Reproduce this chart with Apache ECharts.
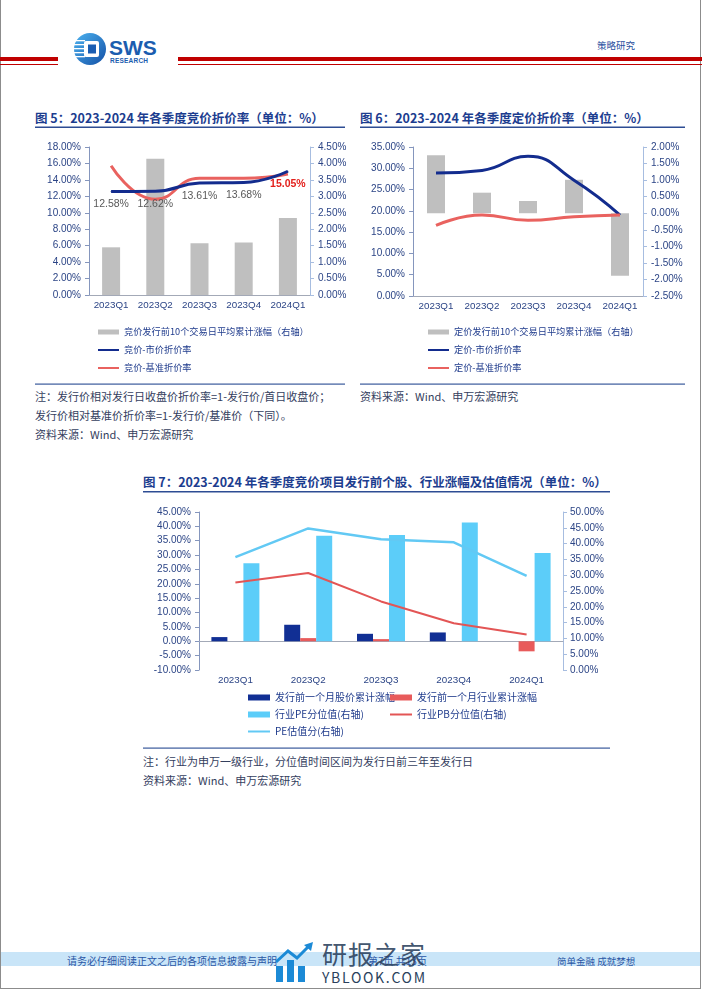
<!DOCTYPE html>
<html>
<head>
<meta charset="utf-8">
<script src="https://cdn.jsdelivr.net/npm/echarts@6/dist/echarts.min.js"></script>
<style>
  body { margin: 0; background: #fff; }
  #page { position: relative; width: 702px; height: 991px; overflow: hidden; background: #fff; }
  #bg, #chart { position: absolute; left: 0; top: 0; width: 702px; height: 991px; }
  #bg text { font-family: "Noto Sans CJK SC", sans-serif; dominant-baseline: central; }
</style>
</head>
<body>
<div id="page">
<svg id="bg" width="702" height="991" viewBox="0 0 702 991">
  <!-- page frame -->
  <rect x="0.5" y="-2" width="700" height="990.5" fill="none" stroke="#8c8c8c" stroke-width="1"/>

  <!-- header -->
  <rect x="0" y="57" width="58" height="4" fill="#c00000"/>
  <rect x="0" y="64" width="58" height="1" fill="#c00000"/>
  <rect x="178" y="57" width="524" height="4" fill="#c00000"/>
  <rect x="178" y="64" width="524" height="1" fill="#c00000"/>
  <defs>
    <linearGradient id="lg" x1="0" y1="0" x2="1" y2="1">
      <stop offset="0" stop-color="#4cb3f0"/>
      <stop offset="1" stop-color="#1450a6"/>
    </linearGradient>
  </defs>
  <circle cx="90" cy="49" r="16" fill="url(#lg)"/>
  <g fill="#ffffff">
    <rect x="75" y="40" width="10" height="1.3"/>
    <rect x="74" y="44" width="11" height="1.3"/>
    <rect x="74" y="48" width="11" height="1.3"/>
    <rect x="74" y="52" width="11" height="1.3"/>
    <rect x="75" y="56" width="10" height="1.3"/>
    <rect x="84" y="41" width="15" height="16" rx="2"/>
  </g>
  <rect x="88" y="44.5" width="8" height="9" fill="#1a5db2"/>
  <text x="109" y="47" style="font-family:'Liberation Sans',Arial;font-weight:bold;font-size:21px" fill="#1b5daf">SWS</text>
  <text x="110" y="60" style="font-family:'Liberation Sans',Arial;font-weight:bold;font-size:6.5px" fill="#1b5daf" textLength="38">RESEARCH</text>
  <text x="597" y="45" font-size="9.5" fill="#2a4f9e">策略研究</text>

  <!-- titles -->
  <text x="35" y="117" font-size="12.5" font-weight="bold" fill="#1c3d8f">图 5：2023-2024 年各季度竞价折价率（单位：%）</text>
  <rect x="35" y="126.5" width="310" height="1.5" fill="#2d4c93"/>
  <text x="360" y="117" font-size="12.5" font-weight="bold" fill="#1c3d8f">图 6：2023-2024 年各季度定价折价率（单位：%）</text>
  <rect x="360" y="126.5" width="325" height="1.5" fill="#2d4c93"/>
  <text x="143" y="481" font-size="12.5" font-weight="bold" fill="#1c3d8f">图 7：2023-2024 年各季度竞价项目发行前个股、行业涨幅及估值情况（单位：%）</text>
  <rect x="143" y="491" width="467" height="1.5" fill="#2d4c93"/>

  <!-- separators and notes -->
  <rect x="35" y="383.5" width="310" height="1.2" fill="#3a5a9c"/>
  <rect x="360" y="383.5" width="325" height="1.2" fill="#3a5a9c"/>
  <rect x="143" y="747.5" width="467" height="1.2" fill="#3a5a9c"/>
  <g font-size="11" fill="#34405e">
    <text x="35" y="396">注：发行价相对发行日收盘价折价率=1-发行价/首日收盘价；</text>
    <text x="35" y="415">发行价相对基准价折价率=1-发行价/基准价（下同）。</text>
    <text x="35" y="434">资料来源：Wind、申万宏源研究</text>
    <text x="360" y="396">资料来源：Wind、申万宏源研究</text>
    <text x="143" y="761">注：行业为申万一级行业，分位值时间区间为发行日前三年至发行日</text>
    <text x="143" y="780">资料来源：Wind、申万宏源研究</text>
  </g>

  <!-- footer -->
  <rect x="1" y="952" width="699" height="14" fill="#c9e5f8"/>
  <g font-size="10" fill="#2a56a5">
    <text x="67" y="960.5">请务必仔细阅读正文之后的各项信息披露与声明</text>
    <text x="368" y="960.5">第7页 共13页</text>
    <text x="557" y="960.5" font-size="9.5">简单金融 成就梦想</text>
  </g>
  <!-- watermark -->
  <g fill="#1c8ad6">
    <rect x="276" y="966" width="7" height="16"/>
    <rect x="287" y="960" width="7" height="22"/>
    <rect x="298" y="966" width="7" height="16"/>
    <polyline points="276,962 288,951 297,958 309,946" fill="none" stroke="#1c8ad6" stroke-width="3"/>
    <polygon points="313,942 304,945 311,951"/>
  </g>
  <text x="322" y="953" font-size="25" fill="#2a3f5c" fill-opacity="0.9" textLength="103">研报之家</text>
  <text x="322" y="977" font-size="14" fill="#2a3f5c" textLength="103">YBLOOK.COM</text>
</svg>
<div id="chart"></div>
</div>
<script>
// categories
const quarters = ['2023Q1', '2023Q2', '2023Q3', '2023Q4', '2024Q1'];

// 图5 竞价
const jjRise = [1.45, 4.14, 1.57, 1.60, 2.34];
const jjMarket = [12.58, 12.62, 13.61, 13.68, 15.05];
const jjBase = [15.73, 11.64, 14.19, 14.19, 14.72];

// 图6 定价
const djRise = [1.75, 0.62, 0.37, 1.01, -1.89];
const djMarket = [28.9, 29.5, 32.8, 27.2, 19.0];
const djBase = [16.6, 19.0, 17.8, 18.6, 19.0];

// 图7 发行前个股、行业涨幅及估值
const stockRise = [1.46, 5.75, 2.60, 3.07, 0];
const industryRise = [0, 1.10, 0.75, 0, -3.50];
const pePct = [33.8, 42.5, 42.7, 46.7, 37.0];
const pbPct = [27.7, 30.7, 21.7, 14.8, 11.2];
const peScore = [35.7, 44.8, 41.4, 40.4, 29.8];

const navy = '#2c4586';
const legendNavy = '#1f3b8c';
const pct = v => v.toFixed(2) + '%';

function yAx(grid, pos, min, max, step, lineColor, extra) {
  return Object.assign({
    type: 'value', gridIndex: grid, position: pos,
    min: min, max: max, interval: step,
    splitLine: { show: false },
    axisLine: { show: true, lineStyle: { color: lineColor } },
    axisTick: { show: true, length: 4, lineStyle: { color: lineColor } },
    axisLabel: { formatter: pct, color: navy, fontSize: 10, fontFamily: 'Liberation Sans', margin: 8 }
  }, extra || {});
}

function xAx(grid, axisLine) {
  return {
    type: 'category', gridIndex: grid, data: quarters,
    axisLine: Object.assign({ lineStyle: { color: '#a3a9b7' } }, axisLine),
    axisTick: { length: 4, lineStyle: { color: '#a3a9b7' } },
    axisLabel: { interval: 0, color: navy, fontSize: 9.8, fontFamily: 'Liberation Sans', margin: 5 }
  };
}

function lineLegend(name) {
  return { name: name, itemStyle: { opacity: 0 }, lineStyle: { width: 2 } };
}

// right axis of 图7: bars start where the category axis crosses
const leftMin7 = -10, leftMax7 = 45, rightMax7 = 50;
const crossValue7 = rightMax7 * (0 - leftMin7) / (leftMax7 - leftMin7);

let myChart = echarts.init(document.getElementById('chart'));

let option = {
  animation: false,
  grid: [
    { left: 89, top: 147, width: 221, height: 148, outerBoundsMode: 'none' },
    { left: 413, top: 147, width: 230, height: 149, outerBoundsMode: 'none' },
    { left: 199, top: 512, width: 364, height: 158, outerBoundsMode: 'none' }
  ],
  xAxis: [
    xAx(0, { onZero: false }),
    xAx(1, { onZero: false }),
    xAx(2, { onZero: true, onZeroAxisIndex: 4 })
  ],
  yAxis: [
    yAx(0, 'left', 0, 18, 2, '#8596bd'),
    yAx(0, 'right', 0, 4.5, 0.5, '#a7bde0'),
    yAx(1, 'left', 0, 35, 5, '#8596bd'),
    yAx(1, 'right', -2.5, 2, 0.5, '#a7bde0'),
    yAx(2, 'left', leftMin7, leftMax7, 5, '#8596bd'),
    yAx(2, 'right', 0, rightMax7, 5, '#a7bde0', { startValue: crossValue7, axisLabel: { formatter: pct, color: navy, fontSize: 10, fontFamily: 'Liberation Sans', margin: 7 } })
  ],
  legend: [
    {
      left: 92, top: 318, orient: 'vertical', itemWidth: 21, itemHeight: 5, itemGap: 0,
      textStyle: { fontSize: 9.2, lineHeight: 18, color: legendNavy, fontFamily: 'Noto Sans CJK SC' },
      data: [{ name: '竞价发行前10个交易日平均累计涨幅（右轴）', icon: 'rect' }, lineLegend('竞价-市价折价率'), lineLegend('竞价-基准折价率')]
    },
    {
      left: 422, top: 318, orient: 'vertical', itemWidth: 21, itemHeight: 5, itemGap: 0,
      textStyle: { fontSize: 9.2, lineHeight: 18, color: legendNavy, fontFamily: 'Noto Sans CJK SC' },
      data: [{ name: '定价发行前10个交易日平均累计涨幅（右轴）', icon: 'rect' }, lineLegend('定价-市价折价率'), lineLegend('定价-基准折价率')]
    },
    {
      left: 242, top: 684, orient: 'vertical', itemWidth: 22, itemHeight: 6, itemGap: 0,
      textStyle: { fontSize: 10, lineHeight: 17, color: legendNavy, fontFamily: 'Noto Sans CJK SC' },
      data: [{ name: '发行前一个月股价累计涨幅', icon: 'rect' }, { name: '行业PE分位值(右轴)', icon: 'rect' }, lineLegend('PE估值分(右轴)')]
    },
    {
      left: 384, top: 684, orient: 'vertical', itemWidth: 22, itemHeight: 6, itemGap: 0,
      textStyle: { fontSize: 10, lineHeight: 17, color: legendNavy, fontFamily: 'Noto Sans CJK SC' },
      data: [{ name: '发行前一个月行业累计涨幅', icon: 'rect' }, lineLegend('行业PB分位值(右轴)')]
    }
  ],
  series: [
    // 图5
    {
      name: '竞价发行前10个交易日平均累计涨幅（右轴）', type: 'bar', xAxisIndex: 0, yAxisIndex: 1,
      data: jjRise, barWidth: 18, itemStyle: { color: '#bfbfbf' }
    },
    {
      name: '竞价-市价折价率', type: 'line', xAxisIndex: 0, yAxisIndex: 0, smooth: true,
      symbol: 'circle', symbolSize: 1,
      data: jjMarket.map((v, i) => i === jjMarket.length - 1
        ? { value: v, label: { color: '#e3201c', fontWeight: 'bold' } }
        : v),
      lineStyle: { width: 3, color: '#132c8e' }, itemStyle: { color: '#132c8e' },
      label: {
        show: true, position: 'bottom', distance: 7, formatter: p => pct(p.value),
        color: '#595959', fontSize: 10.5, fontFamily: 'Liberation Sans'
      },
      z: 3
    },
    {
      name: '竞价-基准折价率', type: 'line', xAxisIndex: 0, yAxisIndex: 0, smooth: true,
      symbol: 'none', data: jjBase,
      lineStyle: { width: 3, color: '#e9625f' }, itemStyle: { color: '#e9625f' }, z: 2
    },
    // 图6
    {
      name: '定价发行前10个交易日平均累计涨幅（右轴）', type: 'bar', xAxisIndex: 1, yAxisIndex: 3,
      data: djRise, barWidth: 18, itemStyle: { color: '#bfbfbf' }
    },
    {
      name: '定价-市价折价率', type: 'line', xAxisIndex: 1, yAxisIndex: 2, smooth: true,
      symbol: 'none', data: djMarket,
      lineStyle: { width: 3, color: '#132c8e' }, itemStyle: { color: '#132c8e' }
    },
    {
      name: '定价-基准折价率', type: 'line', xAxisIndex: 1, yAxisIndex: 2, smooth: true,
      symbol: 'none', data: djBase,
      lineStyle: { width: 3, color: '#e9625f' }, itemStyle: { color: '#e9625f' }
    },
    // 图7
    {
      name: '发行前一个月股价累计涨幅', type: 'bar', xAxisIndex: 2, yAxisIndex: 4,
      data: stockRise, barWidth: 16, barGap: '0%', itemStyle: { color: '#112f94' }
    },
    {
      name: '发行前一个月行业累计涨幅', type: 'bar', xAxisIndex: 2, yAxisIndex: 4,
      data: industryRise, barWidth: 16, barGap: '0%', itemStyle: { color: '#e85b5b' }
    },
    {
      name: '行业PE分位值(右轴)', type: 'bar', xAxisIndex: 2, yAxisIndex: 5,
      data: pePct, barWidth: 16, barGap: '0%', itemStyle: { color: '#5ccdf9' }
    },
    {
      name: '行业PB分位值(右轴)', type: 'line', xAxisIndex: 2, yAxisIndex: 5,
      symbol: 'none', data: pbPct,
      lineStyle: { width: 2, color: '#e35555' }, itemStyle: { color: '#e35555' }, z: 3
    },
    {
      name: 'PE估值分(右轴)', type: 'line', xAxisIndex: 2, yAxisIndex: 5,
      symbol: 'none', data: peScore,
      lineStyle: { width: 2.5, color: '#62c9f4' }, itemStyle: { color: '#62c9f4' }, z: 3
    }
  ]
};

myChart.setOption(option);
</script>
</body>
</html>
